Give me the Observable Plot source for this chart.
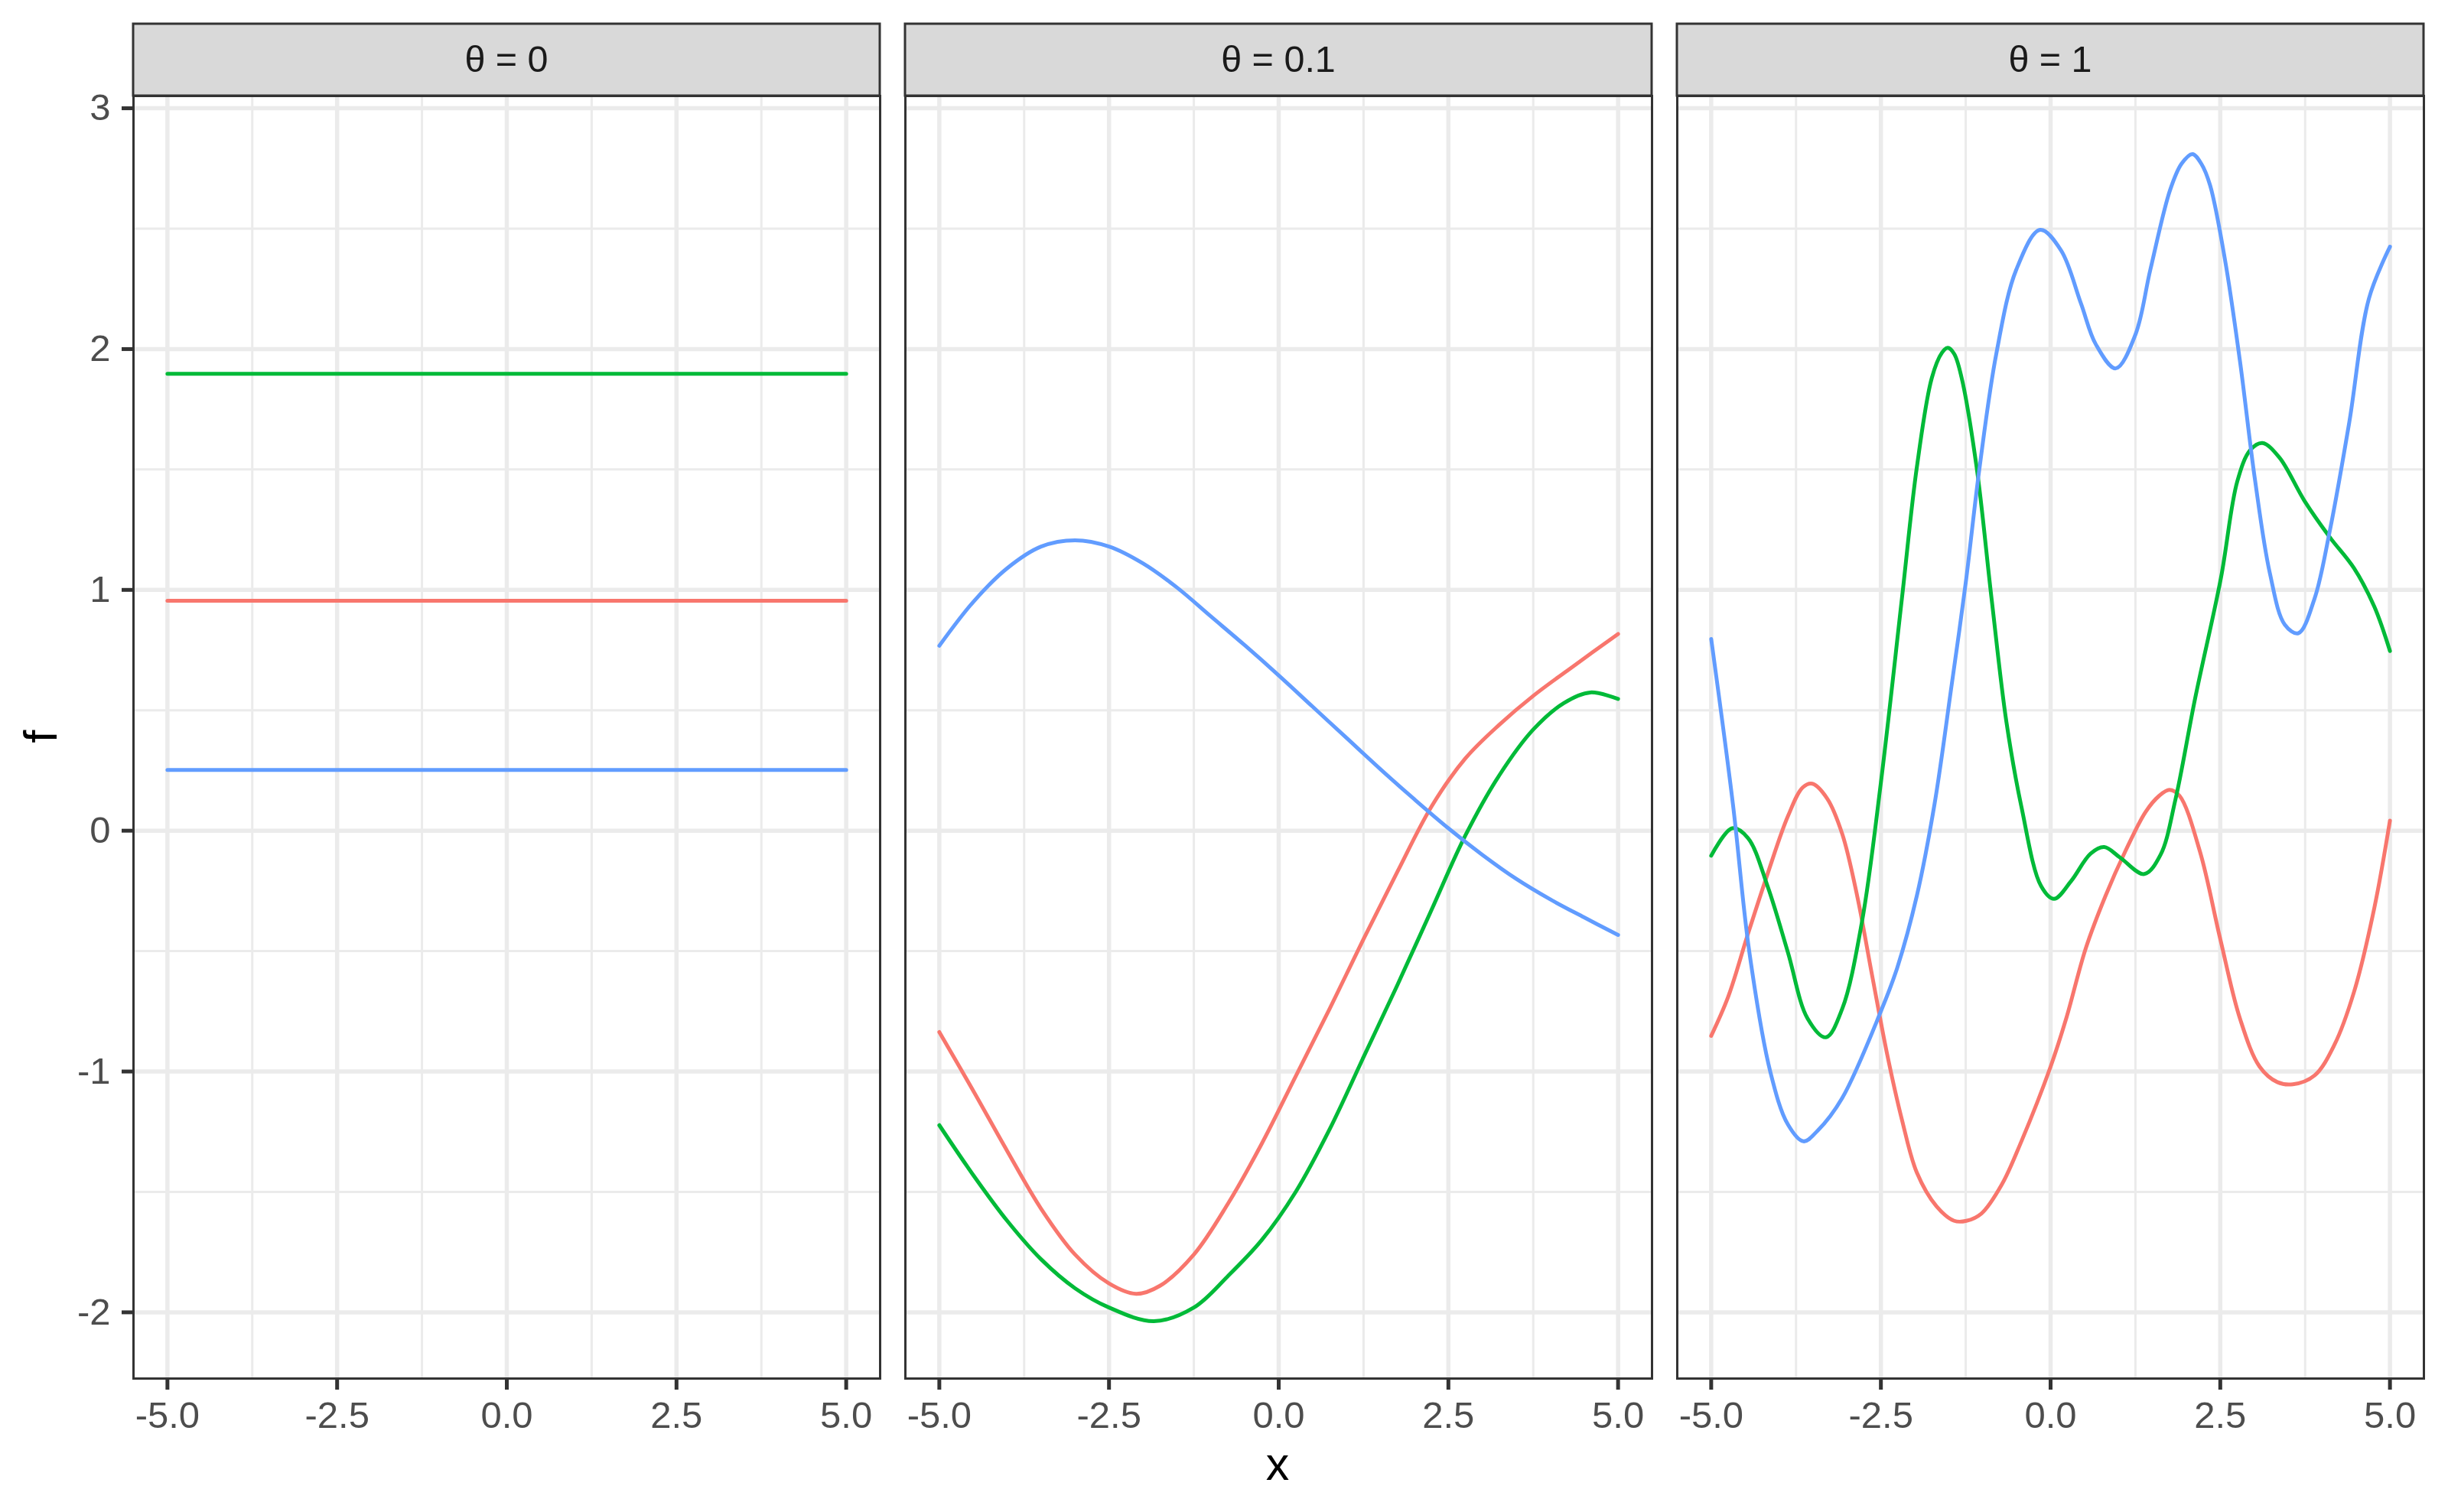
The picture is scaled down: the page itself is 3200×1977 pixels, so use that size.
<!DOCTYPE html>
<html>
<head>
<meta charset="utf-8">
<script src="https://cdn.jsdelivr.net/npm/d3@7"></script>
<script src="https://cdn.jsdelivr.net/npm/@observablehq/plot@0.6"></script>
<style>
  html, body { margin: 0; padding: 0; background: #ffffff; }
  #chart { width: 3200px; height: 1977px; }
</style>
</head>
<body>
<div id="chart"></div>
<script>
// ---------- Data ----------
const panels = ["θ = 0", "θ = 0.1", "θ = 1"];
const seriesNames = ["a", "b", "c"];
const seriesColors = ["#F8766D", "#00BA38", "#619CFF"];

// Panel θ = 0 (constant functions)
const p0_x = [-5, 5];
const p0_a = [0.955, 0.955];
const p0_b = [1.897, 1.897];
const p0_c = [0.252, 0.252];

// Panel θ = 0.1
const p1_a_x = [-5, -4.5, -4, -3.5, -3, -2.5, -2.1, -1.75, -1.25, -0.75, -0.25, 0.25, 0.75, 1.25, 1.75, 2.25, 2.75, 3.25, 3.75, 4.375, 5];
const p1_a_f = [-0.836, -1.08, -1.33, -1.57, -1.76, -1.88, -1.923, -1.89, -1.76, -1.55, -1.30, -1.02, -0.74, -0.45, -0.17, 0.10, 0.30, 0.44, 0.56, 0.69, 0.817];
const p1_b_x = [-5, -4.5, -4, -3.5, -3, -2.5, -1.84, -1.25, -0.75, -0.25, 0.25, 0.75, 1.25, 1.75, 2.25, 2.75, 3.25, 3.75, 4.2, 4.59, 5];
const p1_b_f = [-1.223, -1.43, -1.62, -1.78, -1.90, -1.98, -2.037, -1.98, -1.85, -1.70, -1.50, -1.24, -0.94, -0.64, -0.33, -0.02, 0.23, 0.42, 0.53, 0.574, 0.547];
const p1_c_x = [-5, -4.5, -4, -3.5, -3, -2.5, -2, -1.5, -1, -0.5, 0, 0.5, 1, 1.5, 2, 2.5, 3, 3.5, 4, 4.5, 5];
const p1_c_f = [0.768, 0.95, 1.09, 1.18, 1.206, 1.18, 1.11, 1.01, 0.89, 0.77, 0.645, 0.515, 0.385, 0.255, 0.13, 0.01, -0.10, -0.20, -0.285, -0.36, -0.433];

// Panel θ = 1
const p2_a_x = [-5, -4.75, -4.46, -4.17, -3.87, -3.65, -3.51, -3.29, -3.07, -2.85, -2.63, -2.41, -2.19, -1.97, -1.68, -1.42, -1.24, -1.02, -0.72, -0.43, 0, 0.23, 0.52, 0.81, 1.1, 1.4, 1.6, 1.75, 1.9, 2.2, 2.5, 2.79, 3.08, 3.34, 3.57, 3.89, 4.18, 4.47, 4.77, 5];
const p2_a_f = [-0.852, -0.69, -0.43, -0.18, 0.06, 0.18, 0.195, 0.133, -0.013, -0.27, -0.60, -0.925, -1.2, -1.42, -1.56, -1.62, -1.62, -1.59, -1.47, -1.29, -0.98, -0.78, -0.487, -0.27, -0.086, 0.078, 0.145, 0.17, 0.145, -0.086, -0.45, -0.78, -0.98, -1.044, -1.053, -1.016, -0.89, -0.67, -0.32, 0.042];
const p2_b_x = [-5, -4.69, -4.46, -4.17, -3.87, -3.58, -3.31, -3.07, -2.78, -2.5, -2.19, -1.97, -1.75, -1.6, -1.515, -1.42, -1.31, -1.09, -0.87, -0.65, -0.43, -0.14, 0.05, 0.30, 0.59, 0.79, 1.03, 1.38, 1.62, 1.84, 2.13, 2.51, 2.75, 2.94, 3.12, 3.37, 3.74, 4.11, 4.47, 4.77, 5];
const p2_b_f = [-0.104, 0.01, -0.03, -0.23, -0.505, -0.78, -0.858, -0.74, -0.38, 0.2, 0.965, 1.51, 1.88, 1.985, 2.005, 1.98, 1.88, 1.51, 0.965, 0.45, 0.1, -0.23, -0.283, -0.21, -0.095, -0.068, -0.113, -0.18, -0.10, 0.13, 0.55, 1.05, 1.45, 1.58, 1.61, 1.55, 1.37, 1.22, 1.09, 0.93, 0.746];
const p2_c_x = [-5, -4.68, -4.44, -4.13, -3.87, -3.64, -3.43, -3.07, -2.5, -2.26, -1.97, -1.71, -1.46, -1.25, -1.05, -0.8, -0.505, -0.154, 0.154, 0.447, 0.666, 0.96, 1.25, 1.47, 1.76, 1.93, 2.09, 2.22, 2.35, 2.57, 2.79, 3.01, 3.23, 3.45, 3.65, 3.89, 4.11, 4.40, 4.69, 5];
const p2_c_f = [0.796, 0.11, -0.5, -1.0, -1.22, -1.29, -1.245, -1.11, -0.75, -0.57, -0.27, 0.11, 0.6, 1.03, 1.5, 1.98, 2.33, 2.495, 2.41, 2.19, 2.02, 1.92, 2.06, 2.33, 2.66, 2.77, 2.81, 2.77, 2.68, 2.37, 1.95, 1.46, 1.07, 0.856, 0.82, 0.965, 1.24, 1.695, 2.21, 2.425];

// Ticks
const xMajor = [-5, -2.5, 0, 2.5, 5];
const xMinor = [-3.75, -1.25, 1.25, 3.75];
const yMajor = [-2, -1, 0, 1, 2, 3];
const yMinor = [-1.5, -0.5, 0.5, 1.5, 2.5];

// ---------- Build table ----------
const groups = [
  [panels[0], seriesNames[0], p0_x, p0_a],
  [panels[0], seriesNames[1], p0_x, p0_b],
  [panels[0], seriesNames[2], p0_x, p0_c],
  [panels[1], seriesNames[0], p1_a_x, p1_a_f],
  [panels[1], seriesNames[1], p1_b_x, p1_b_f],
  [panels[1], seriesNames[2], p1_c_x, p1_c_f],
  [panels[2], seriesNames[0], p2_a_x, p2_a_f],
  [panels[2], seriesNames[1], p2_b_x, p2_b_f],
  [panels[2], seriesNames[2], p2_c_x, p2_c_f]
];
const rows = [];
for (const [panel, series, xs, fs] of groups) {
  xs.forEach((x, i) => rows.push({panel, series, x, f: fs[i]}));
}

const font = "'Liberation Sans', Arial, Helvetica, sans-serif";

const plot = Plot.plot({
  width: 3200,
  height: 1977,
  marginTop: 125,
  marginBottom: 175,
  marginLeft: 173,
  marginRight: 32,
  style: {fontFamily: font, background: "#ffffff", overflow: "visible"},
  fx: {domain: panels, paddingInner: 0.0331, paddingOuter: 0, axis: null, label: null},
  x: {domain: [-5.5, 5.5], label: null},
  y: {domain: [-2.275, 3.051], label: null},
  color: {domain: seriesNames, range: seriesColors},
  marks: [
    Plot.ruleX(xMinor, {stroke: "#EBEBEB", strokeWidth: 3}),
    Plot.ruleY(yMinor, {stroke: "#EBEBEB", strokeWidth: 3}),
    Plot.ruleX(xMajor, {stroke: "#EBEBEB", strokeWidth: 5.5}),
    Plot.ruleY(yMajor, {stroke: "#EBEBEB", strokeWidth: 5.5}),
    Plot.line(rows, {x: "x", y: "f", z: "series", stroke: "series", fx: "panel", curve: "catmull-rom", strokeWidth: 5}),
    Plot.frame({stroke: "#333333", strokeWidth: 3}),
    Plot.axisX({ticks: xMajor, tickFormat: d => d.toFixed(1), tickSize: 15, tickPadding: 15, fontSize: 49, stroke: "#333333", strokeWidth: 5, fill: "#4D4D4D", label: null}),
    Plot.axisY({ticks: yMajor, tickFormat: d => String(d), tickSize: 15, tickPadding: 15, fontSize: 49, stroke: "#333333", strokeWidth: 5, fill: "#4D4D4D", label: null})
  ]
});

document.getElementById("chart").appendChild(plot);

// Strips, positioned from the fx scale
const svg = d3.select(plot);
const fx = plot.scale("fx");
const bw = fx.bandwidth;
const strips = svg.append("g");
panels.forEach(p => {
  const x0 = fx.apply(p);
  strips.append("rect")
    .attr("x", x0).attr("y", 31).attr("width", bw).attr("height", 94)
    .attr("fill", "#D9D9D9").attr("stroke", "#333333").attr("stroke-width", 3);
  strips.append("text")
    .attr("x", x0 + bw / 2).attr("y", 94)
    .attr("text-anchor", "middle")
    .attr("font-family", font).attr("font-size", 48.5).attr("fill", "#1A1A1A")
    .text(p);
});

// Axis titles
svg.append("text")
  .attr("x", 1670).attr("y", 1935)
  .attr("text-anchor", "middle")
  .attr("font-family", font).attr("font-size", 61).attr("fill", "#000000")
  .text("x");
svg.append("text")
  .attr("transform", "translate(74,963) rotate(-90)")
  .attr("text-anchor", "middle")
  .attr("font-family", font).attr("font-size", 61).attr("fill", "#000000")
  .text("f");
</script>
</body>
</html>
